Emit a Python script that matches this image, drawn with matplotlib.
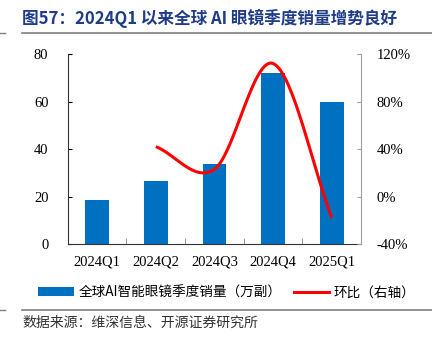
import numpy as np
import matplotlib
matplotlib.use("Agg")
import matplotlib.pyplot as plt
from matplotlib.lines import Line2D
from matplotlib.patches import Patch


# =========================
# DADOS
# =========================
trimestres = ["2024Q1", "2024Q2", "2024Q3", "2024Q4", "2025Q1"]
vendas = [18.5, 26.5, 33.6, 72.0, 60.0]          # 万副
huanbi = [None, 42, 23, 112, -18]                  # %

titulo = "图57：2024Q1 以来全球 AI 眼镜季度销量增势良好"
fonte = "数据来源：维深信息、开源证券研究所"
leg_barra = "全球AI智能眼镜季度销量（万副）"
leg_linha = "环比（右轴）"

AZUL = "#0070C0"
VERMELHO = "#FF0000"
TITULO_COR = "#1F3C88"

CJK = ["Noto Sans CJK SC", "DejaVu Sans"]
SERIF = ["Liberation Serif", "Noto Sans CJK SC"]


# =========================
# FUNÇÕES
# =========================
def catmull_rom(xs, ys, n=40):
    # curva suave passando pelos pontos (tipo "linha suavizada")
    p = np.column_stack([xs, ys]).astype(float)
    p = np.vstack([2 * p[0] - p[1], p, 2 * p[-1] - p[-2]])
    out = []
    for i in range(1, len(p) - 2):
        p0, p1, p2, p3 = p[i - 1], p[i], p[i + 1], p[i + 2]
        t = np.linspace(0, 1, n)[:, None]
        seg = 0.5 * ((2 * p1) + (-p0 + p2) * t
                     + (2 * p0 - 5 * p1 + 4 * p2 - p3) * t ** 2
                     + (-p0 + 3 * p1 - 3 * p2 + p3) * t ** 3)
        out.append(seg)
    c = np.vstack(out)
    return c[:, 0], c[:, 1]


# =========================
# GRÁFICO
# =========================
fig = plt.figure(figsize=(4.32, 3.41), dpi=100)
ax = fig.add_axes([0.157, 0.2845, 0.679, 0.557])

x = np.arange(len(trimestres))
ax.bar(x, vendas, width=0.4, color=AZUL, zorder=2)
ax.set_xlim(-0.5, len(trimestres) - 0.5)
ax.set_ylim(0, 80)
ax.set_yticks([0, 20, 40, 60, 80])
ax.set_xticks(x)
ax.set_xticklabels(trimestres)
ax.set_xticks(np.arange(-0.5, len(trimestres)), minor=True)
ax.tick_params(axis="x", which="major", length=0, pad=8)
ax.tick_params(axis="x", which="minor", direction="in", length=4, color="#808080")
ax.tick_params(axis="y", direction="in", length=3, pad=14)
for lab in ax.get_xticklabels() + ax.get_yticklabels():
    lab.set_family(SERIF)
    lab.set_fontsize(10.5)
ax.spines["top"].set_visible(False)
ax.spines["right"].set_visible(False)
ax.spines["left"].set_color("#333333")
ax.spines["bottom"].set_color("#333333")

ax2 = ax.twinx()
xl = [i for i, v in enumerate(huanbi) if v is not None]
yl = [v for v in huanbi if v is not None]
cx, cy = catmull_rom(xl, yl)
ax2.plot(cx, cy, color=VERMELHO, lw=2.2, solid_capstyle="butt", zorder=3)
ax2.set_ylim(-40, 120)
ax2.set_yticks([-40, 0, 40, 80, 120])
ax2.set_yticklabels([f"{v}%" for v in [-40, 0, 40, 80, 120]])
ax2.tick_params(axis="y", direction="in", length=3, color="#A0A0A0", pad=11)
for lab in ax2.get_yticklabels():
    lab.set_family(SERIF)
    lab.set_fontsize(10.5)
for s in ["top", "left", "bottom"]:
    ax2.spines[s].set_visible(False)
ax2.spines["right"].set_color("#A0A0A0")

# título e linhas
fig.text(0.051, 0.945, titulo, family=CJK, fontsize=12, fontweight="bold",
         color=TITULO_COR, va="center", ha="left")
fig.add_artist(Line2D([0.051, 1.0], [0.903, 0.903], color="#7F7F7F", lw=1.2))
fig.add_artist(Line2D([0.0, 0.012], [0.903, 0.903], color="#7F7F7F", lw=1.0))
fig.add_artist(Line2D([0.051, 1.0], [0.091, 0.091], color="#7F7F7F", lw=1.2))
fig.add_artist(Line2D([0.0, 0.012], [0.091, 0.091], color="#7F7F7F", lw=1.0))

handles = [Patch(facecolor=AZUL, edgecolor="none"),
           Line2D([0], [0], color=VERMELHO, lw=2.2)]
fig.legend(handles, [leg_barra, leg_linha], loc="center", ncol=2,
           bbox_to_anchor=(0.525, 0.143), frameon=False,
           prop={"family": CJK, "size": 9.8}, handlelength=2.6,
           handleheight=0.55, handletextpad=0.35, columnspacing=0.9)

fig.text(0.051, 0.053, fonte, family=CJK, fontsize=10, color="#333333",
         va="center", ha="left")

fig.savefig("out.png", dpi=100)
